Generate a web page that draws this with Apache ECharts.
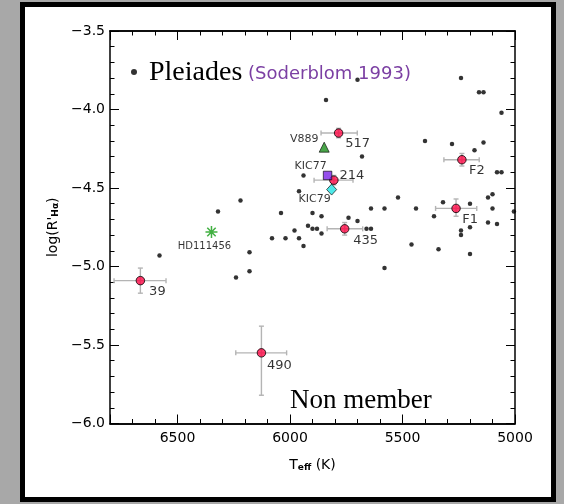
<!DOCTYPE html>
<html>
<head>
<meta charset="utf-8">
<script src="https://cdn.jsdelivr.net/npm/echarts@6/dist/echarts.min.js"></script>
<style>
  html, body { margin: 0; padding: 0; }
  body { width: 564px; height: 504px; position: relative; overflow: hidden; background: #a8a8a8; }
  #frame { position: absolute; left: 20px; top: 2px; width: 526px; height: 490px; border: 5px solid #000; background: #fff; }
  #chart { position: absolute; left: 0; top: 0; width: 564px; height: 504px; }
</style>
</head>
<body>
<div id="frame"></div>
<div id="chart"></div>
<script>
// Pleiades members (Soderblom 1993): effective temperature and log R'Halpha
const pleiadesTeff = [5700, 5240, 5160, 5140, 5060, 5840, 5400, 5280, 5140, 5180,
  5680, 5080, 5060, 5940, 5960, 5520, 5120, 5100, 5320, 5200,
  5640, 5580, 5440, 5100, 5005, 5360, 6040, 5900, 5860, 5740,
  5700, 5920, 5900, 5880, 5980, 5860, 6080, 6020, 5960, 5940,
  5660, 5640, 5120, 5080, 5200, 5240, 5240, 5460, 5340, 5200,
  5580, 6320, 6220, 6580, 6180, 6180, 6240];
const pleiadesLogR = [-3.81, -3.80, -3.89, -3.89, -4.02, -3.94, -4.20, -4.22, -4.21, -4.26,
  -4.30, -4.40, -4.40, -4.42, -4.52, -4.56, -4.56, -4.54, -4.59, -4.60,
  -4.63, -4.63, -4.63, -4.63, -4.65, -4.68, -4.66, -4.66, -4.68, -4.69,
  -4.71, -4.74, -4.76, -4.76, -4.77, -4.79, -4.82, -4.82, -4.82, -4.87,
  -4.76, -4.76, -4.72, -4.73, -4.75, -4.77, -4.80, -4.86, -4.89, -4.92,
  -5.01, -4.65, -4.58, -4.93, -4.91, -5.03, -5.07];

// Program stars with uncertainties
const targetNames  = ['39', '490', '435', '517', '214', 'F1', 'F2'];
const targetTeff   = [6665, 6127, 5757, 5784, 5805, 5262, 5236];
const targetLogR   = [-5.09, -5.55, -4.76, -4.15, -4.45, -4.63, -4.32];
const targetTeffLo = [6551, 6015, 5677, 5701, 5720, 5170, 5159];
const targetTeffHi = [6782, 6241, 5835, 5862, 5893, 5353, 5316];
const targetLogRLo = [-5.17, -5.82, -4.80, -4.18, -4.48, -4.68, -4.36];
const targetLogRHi = [-5.01, -5.38, -4.72, -4.12, -4.42, -4.57, -4.28];

// Comparison stars
const v889Point     = [5848, -4.24];
const kic77Point    = [5833, -4.42];
const kic79Point    = [5815, -4.51];
const hd111456Point = [6349, -4.78];

// Axis ranges and tick steps
const teffRange = [5000, 6800];
const logRRange = [-6.0, -3.5];
const teffMajor = 500, teffMinor = 100, logRMajor = 0.5;

const SANS = 'DejaVu Sans';
const SERIF = 'Liberation Serif';

// Label placement relative to each marker centre
const labelShift = {
  '39': [17, 11], '490': [18, 13], '435': [21, 12], '517': [19, 11],
  '214': [18, -5], 'F1': [14, 11], 'F2': [15, 11]
};

const chart = echarts.init(document.getElementById('chart'), null, { renderer: 'canvas' });

const lineStyle = { color: '#000', width: 1.5 };
function teffAxis(position, interval, tickLen, withLabels) {
  return {
    type: 'value', position: position, min: teffRange[0], max: teffRange[1], interval: interval,
    inverse: true, gridIndex: 0,
    axisLine: { show: true, onZero: false, lineStyle: lineStyle },
    axisTick: { show: true, inside: true, length: tickLen, lineStyle: { color: '#000', width: 1 } },
    splitLine: { show: false },
    axisLabel: {
      show: withLabels, margin: 8, color: '#000', fontFamily: SANS, fontSize: 14,
      formatter: v => (v % teffMajor === 0 ? String(v) : '')
    },
    name: withLabels ? '{n|T}{s|eff}{n| (K)}' : '',
    nameLocation: 'middle', nameGap: 31,
    nameTextStyle: {
      color: '#000',
      rich: {
        n: { fontFamily: SANS, fontSize: 14, lineHeight: 18, verticalAlign: 'bottom' },
        s: { fontFamily: SANS, fontSize: 9, lineHeight: 7, verticalAlign: 'bottom', fontWeight: 'bold' }
      }
    }
  };
}
function logRAxis(position, withLabels) {
  return {
    type: 'value', position: position, min: logRRange[0], max: logRRange[1], interval: logRMajor,
    gridIndex: 0,
    axisLine: { show: true, onZero: false, lineStyle: lineStyle },
    axisTick: { show: true, inside: true, length: 9, lineStyle: { color: '#000', width: 1 } },
    minorTick: { show: true, splitNumber: 5, length: 4.5, lineStyle: { color: '#000', width: 1 } },
    splitLine: { show: false },
    minorSplitLine: { show: false },
    axisLabel: {
      show: withLabels, margin: 5, color: '#000', fontFamily: SANS, fontSize: 14,
      formatter: v => v.toFixed(1).replace('-', '\u2212')
    },
    name: withLabels ? "{n|log(R'}{s|H\u03b1}{n|)}" : '',
    nameLocation: 'middle', nameRotate: 90, nameGap: 44,
    nameTextStyle: {
      color: '#000',
      rich: {
        n: { fontFamily: SANS, fontSize: 14, lineHeight: 18, verticalAlign: 'bottom' },
        s: { fontFamily: SANS, fontSize: 9, lineHeight: 7, verticalAlign: 'bottom', fontWeight: 'bold' }
      }
    }
  };
}

const pleiadesData = pleiadesTeff.map((t, i) => [t, pleiadesLogR[i]]);
const errorData = targetNames.map((n, i) =>
  [targetTeff[i], targetLogR[i], targetTeffLo[i], targetTeffHi[i], targetLogRLo[i], targetLogRHi[i]]);
const targetData = targetNames.map((n, i) => ({
  name: n, value: [targetTeff[i], targetLogR[i]],
  label: { offset: labelShift[n] }
}));

const pointLabel = (size, shift) => ({
  show: true, position: 'inside', offset: shift, formatter: '{a}',
  color: '#000', fontFamily: SANS, fontSize: size
});

chart.setOption({
  animation: false,
  grid: { left: 110, right: 49, top: 31, bottom: 80.5, containLabel: false },
  xAxis: [
    teffAxis('bottom', teffMajor, 9, true),
    teffAxis('bottom', teffMinor, 4.5, false),
    teffAxis('top', teffMajor, 9, false),
    teffAxis('top', teffMinor, 4.5, false)
  ],
  yAxis: [logRAxis('left', true), logRAxis('right', false)],
  legend: {
    show: true, left: 131, top: 59, padding: 0, selectedMode: false,
    icon: 'circle', itemWidth: 6, itemHeight: 6,
    data: ['Pleiades'],
    formatter: () => '{p|Pleiades}{s| (Soderblom 1993)}',
    textStyle: {
      rich: {
        p: { fontFamily: SERIF, fontSize: 28, color: '#000', padding: [0, 0, 0, 7], lineHeight: 30, verticalAlign: 'bottom' },
        s: { fontFamily: SANS, fontSize: 18, color: '#7b3fa3', lineHeight: 26, padding: [0, 0, 4, 0], verticalAlign: 'bottom' }
      }
    }
  },
  graphic: [{
    type: 'text', left: 290, top: 387, z: 10,
    style: { text: 'Non member', fontFamily: SERIF, fontSize: 27, fill: '#000' }
  }],
  series: [
    {
      name: 'Pleiades', type: 'scatter', xAxisIndex: 0, yAxisIndex: 0,
      symbol: 'circle', symbolSize: 4.5, itemStyle: { color: '#000' },
      data: pleiadesData, z: 2
    },
    {
      name: 'errors', type: 'custom', xAxisIndex: 0, yAxisIndex: 0, z: 3,
      data: errorData,
      renderItem: function (params, api) {
        const x = api.value(0), y = api.value(1);
        const c = api.coord([x, y]);
        const l = api.coord([api.value(2), y]);
        const r = api.coord([api.value(3), y]);
        const b = api.coord([x, api.value(4)]);
        const t = api.coord([x, api.value(5)]);
        const cap = 2.5;
        const style = { stroke: '#b4b4b4', lineWidth: 1.4 };
        const seg = (x1, y1, x2, y2) => ({ type: 'line', shape: { x1, y1, x2, y2 }, style: style });
        return {
          type: 'group', children: [
            seg(l[0], c[1], r[0], c[1]),
            seg(l[0], c[1] - cap, l[0], c[1] + cap),
            seg(r[0], c[1] - cap, r[0], c[1] + cap),
            seg(c[0], b[1], c[0], t[1]),
            seg(c[0] - cap, b[1], c[0] + cap, b[1]),
            seg(c[0] - cap, t[1], c[0] + cap, t[1])
          ]
        };
      }
    },
    {
      name: 'targets', type: 'scatter', xAxisIndex: 0, yAxisIndex: 0, z: 4,
      symbol: 'circle', symbolSize: 8.5,
      itemStyle: { color: '#ff0a47', borderColor: '#000', borderWidth: 1 },
      label: { show: true, position: 'inside', formatter: '{b}', color: '#000', fontFamily: SANS, fontSize: 13 },
      data: targetData
    },
    {
      name: 'V889', type: 'scatter', z: 4, symbol: 'triangle', symbolSize: 10,
      itemStyle: { color: '#1b8f1b', borderColor: '#000', borderWidth: 0.8 },
      label: pointLabel(11, [-20, -8]), data: [v889Point]
    },
    {
      name: 'KIC77', type: 'scatter', z: 4, symbol: 'rect', symbolSize: 8.5,
      itemStyle: { color: '#7b22e6', borderColor: '#000', borderWidth: 0.8 },
      label: pointLabel(11, [-17, -9]), data: [kic77Point]
    },
    {
      name: 'KIC79', type: 'scatter', z: 4, symbol: 'diamond', symbolSize: [10, 11],
      itemStyle: { color: '#22e3e3', borderColor: '#000', borderWidth: 0.8 },
      label: pointLabel(11, [-17, 10]), data: [kic79Point]
    },
    {
      name: 'HD111456', type: 'scatter', z: 4,
      symbol: 'path://M5,0L5,10M0,5L10,5M1.5,1.5L8.5,8.5M8.5,1.5L1.5,8.5', symbolSize: 12,
      itemStyle: { color: 'rgba(0,0,0,0)', borderColor: '#139c13', borderWidth: 1.5 },
      label: pointLabel(10, [-7, 14]), data: [hd111456Point]
    }
  ]
});
</script>
</body>
</html>
